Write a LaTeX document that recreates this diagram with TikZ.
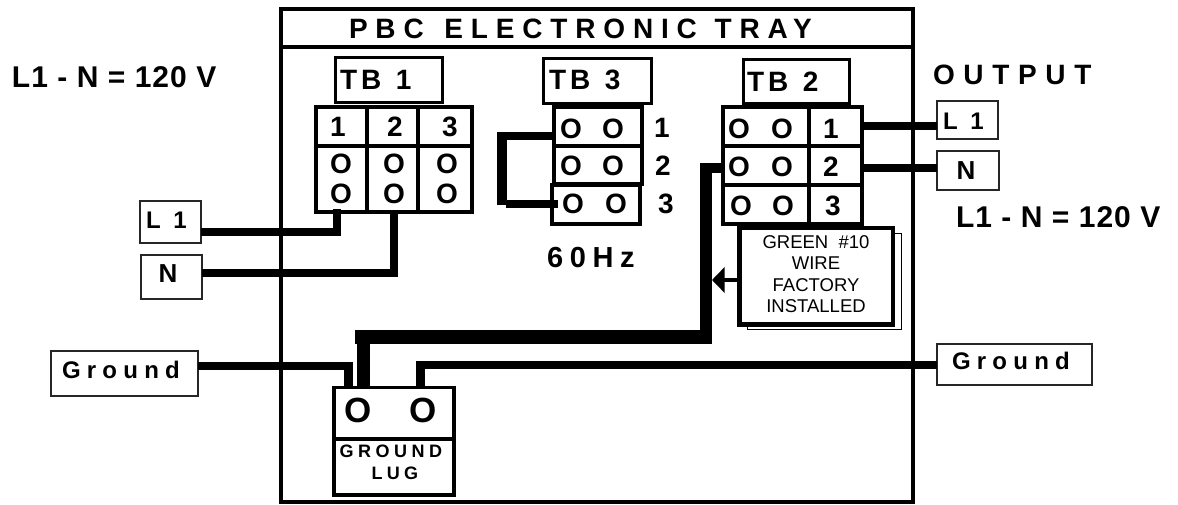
\documentclass[tikz,border=0pt]{standalone}
\usepackage{fontspec}
\setmainfont{Liberation Sans}
\usetikzlibrary{arrows.meta}
\newcommand\lsf[2]{\fontsize{#1}{#1}\selectfont\bfseries\addfontfeature{LetterSpace=#2}}
\tikzset{
  cell/.style={draw=black,line width=3.6pt,outer sep=0pt,inner sep=0pt},
  tbbox/.style={draw=black,line width=3pt,outer sep=0pt,inner sep=0pt},
  thinbox/.style={draw=black!85,line width=1.3pt,fill=white,outer sep=0pt,inner sep=0pt},
  wire/.style={line width=8pt,line cap=butt,line join=miter},
  lab/.style={inner sep=0pt,outer sep=0pt,text=black,anchor=base west},
  mid/.style={inner sep=0pt,outer sep=0pt,text=black,anchor=base},
  term/.style={mid,font=\lsf{28}{0}},
  lugo/.style={mid,font=\lsf{35}{0}},
}
\begin{document}
\begin{tikzpicture}[x=1pt,y=-1pt]
\useasboundingbox (0,0) rectangle (1178,504);
\fill[white] (0,0) rectangle (1178,504);
% frame
\node[cell,minimum width=632pt,minimum height=493pt] (frame) at (597,255.5) {};
\node[cell,minimum width=632pt,minimum height=38pt] (titlebar) at (597,28) {};
\node[lab,font=\lsf{28}{28}] (title) at (349,38) {PBC\hspace{5pt} ELECTRONIC\hspace{2pt} TRAY};
% left texts
\node[lab,font=\lsf{30}{3.5}] (vleft) at (12,87) {L1 - N = 120 V};
\node[lab,font=\lsf{30}{3.5}] (vright) at (956,227) {L1 - N = 120 V};
\node[lab,font=\lsf{28}{31}] (output) at (933,84) {OUTPUT};
% TB1
\node[tbbox,minimum width=107pt,minimum height=45pt] (tb1) at (388.5,79.5) {};
\node[lab,font=\lsf{28}{14}] (tb1t) at (340,89) {TB\hspace{3pt} 1};
\foreach \n/\cx/\w in {a/341.5/51,b/392.5/51,c/445/54}{
  \node[cell,minimum width=\w pt,minimum height=39pt] (tb1h\n) at (\cx,126.5) {};
  \node[cell,minimum width=\w pt,minimum height=66pt] (tb1c\n) at (\cx,179) {};
}
\foreach \n/\x/\t in {a/338/1,b/395/2,c/450/3}
  \node[term] (tb1n\n) at (\x,136) {\t};
\foreach \n/\x in {a/341,b/394,c/447}{
  \node[term] (tb1o\n) at (\x,173) {O};
  \node[term] (tb1p\n) at (\x,203) {O};
}
% TB3
\node[tbbox,minimum width=108pt,minimum height=45pt] (tb3) at (597,80.5) {};
\node[lab,font=\lsf{28}{14}] (tb3t) at (549,89) {TB\hspace{3pt} 3};
\node[cell,minimum width=88pt,minimum height=39pt] (tb3a) at (598,126.5) {};
\node[cell,minimum width=88pt,minimum height=38pt] (tb3b) at (598,165) {};
\node[cell,minimum width=88pt,minimum height=39pt] (tb3c) at (596,204.5) {};
\foreach \n/\x/\y/\t in {a/571/138/O,b/613/138/O,c/571/175/O,d/613/175/O,e/573/213/O,f/616/213/O,g/662/137/1,h/663/175/2,i/666/213/3}
  \node[term] (tb3o\n) at (\x,\y) {\t};
\node[lab,font=\lsf{29}{23}] (hz) at (547,267) {60Hz};
% jumper
\draw[wire] ([yshift=-9.5pt]tb3a.west) -- (497,136);
\draw[line width=10pt] (502,132) -- (502,205);
\draw[wire] (506,204) -- ([xshift=6pt,yshift=0.5pt]tb3c.west);
% TB2
\node[tbbox,minimum width=106pt,minimum height=44pt] (tb2) at (796,81) {};
\node[lab,font=\lsf{28}{14}] (tb2t) at (747,91) {TB\hspace{3pt} 2};
\foreach \r/\cy/\h in {a/126.5/39,b/165.5/39,c/204.5/39}{
  \node[cell,minimum width=86pt,minimum height=\h pt] (tb2l\r) at (766,\cy) {};
  \node[cell,minimum width=53pt,minimum height=\h pt] (tb2r\r) at (835.5,\cy) {};
}
\foreach \n/\x/\y/\t in {a/739/138/O,b/782/138/O,c/739/176/O,d/782/176/O,e/741/215/O,f/783/215/O,g/831/138/1,h/831/176/2,i/833/215/3}
  \node[term] (tb2o\n) at (\x,\y) {\t};
% green note
\node[draw=black,line width=1pt,fill=white,outer sep=0pt,minimum width=154pt,minimum height=96pt] (shadow) at (824,281) {};
\node[draw=black,line width=4.5pt,fill=white,outer sep=0pt,inner sep=0pt,minimum width=153.5pt,minimum height=96.5pt] (green) at (816.25,276.25) {};
\node[inner sep=0pt,align=center,font=\fontsize{18.5}{21.5}\selectfont] (greent) at (816,274) {GREEN\ \ \#10\\WIRE\\FACTORY\\INSTALLED};
\draw[line width=3.5pt,-{Triangle[length=12.5pt,width=25pt]}] ([yshift=-3.75pt]green.west) -- (712,280);
% ground lug
\node[cell,minimum width=120pt,minimum height=51.5pt] (lugtop) at (394,413.25) {};
\node[cell,minimum width=120pt,minimum height=56pt] (lugbot) at (394,467) {};
\node[lugo] (lugl) at (358,422) {O};
\node[lugo] (lugr) at (423,422) {O};
\node[lab,font=\lsf{18}{25}] (lugt) at (339.5,457) {GROUND};
\node[lab,font=\lsf{18}{24}] (lugu) at (371.5,479) {LUG};
% terminal boxes
\node[thinbox,minimum width=61pt,minimum height=42pt] (l1in) at (170.5,222) {};
\node[lab,font=\lsf{24}{13}] (l1int) at (146,228) {L\hspace{3pt} 1};
\node[thinbox,minimum width=61pt,minimum height=44pt] (nin) at (171.5,277) {};
\node[mid,font=\lsf{26}{0}] (nint) at (168,282) {N};
\node[thinbox,minimum width=147pt,minimum height=45pt] (gndin) at (124.5,373.5) {};
\node[lab,font=\lsf{24}{26}] (gndint) at (62,378) {Ground};
\node[thinbox,minimum width=61pt,minimum height=38pt] (l1out) at (967.5,120) {};
\node[lab,font=\lsf{24}{13}] (l1outt) at (943,129) {L\hspace{3pt} 1};
\node[thinbox,minimum width=62pt,minimum height=39pt] (nout) at (968,170.5) {};
\node[mid,font=\lsf{26}{0}] (noutt) at (966,179) {N};
\node[thinbox,minimum width=155pt,minimum height=41pt] (gndout) at (1014.5,364.5) {};
\node[lab,font=\lsf{24}{26}] (gndoutt) at (952,369) {Ground};
% wires
\draw[wire] ([yshift=-10pt]l1in.east) -| ([xshift=-4.5pt,yshift=3pt]tb1ca.south);
\draw[wire] ([yshift=4pt]nin.east) -| ([xshift=1.5pt]tb1cb.south);
\draw[wire] ([yshift=0.5pt]tb2ra.east) -- ([yshift=-6pt]l1out.west);
\draw[wire] ([yshift=-2.5pt]tb2rb.east) -- ([yshift=2.5pt]nout.west);
% ground wires
\draw[wire] ([yshift=7.5pt]gndin.east) -- (352.5,366);
\draw[line width=9pt] (348,362) -- ([xshift=-46pt,yshift=-1.5pt]lugtop.north);
\draw[wire] (416,365) -- ([yshift=-0.5pt]gndout.west);
\draw[line width=9pt] (420.5,361) -- ([xshift=26.5pt,yshift=-1.5pt]lugtop.north);
% thick wire
\draw[line width=10pt] ([yshift=-2.5pt]tb2lb.west) -- (700,168);
\draw[line width=12pt] (706,163) -- (706,344);
\draw[line width=14pt] (355,337) -- (712,337);
\draw[line width=12.5pt] (363.5,330) -- ([xshift=-30.5pt]lugtop.north);
\end{tikzpicture}
\end{document}
